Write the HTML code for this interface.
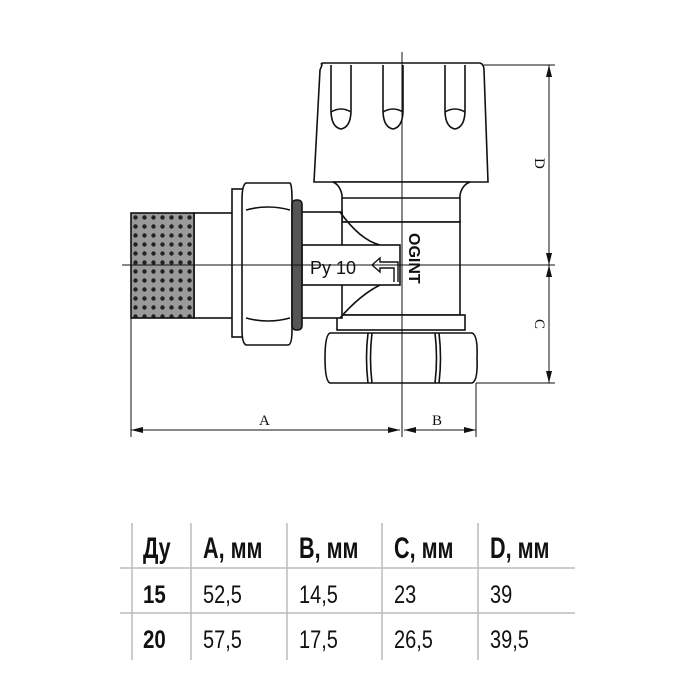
<!DOCTYPE html>
<html><head><meta charset="utf-8"><style>
html,body{margin:0;padding:0;background:#fff;}
svg{display:block}
</style></head><body>
<svg width="700" height="700" viewBox="0 0 700 700" xmlns="http://www.w3.org/2000/svg">
<defs>
<pattern id="thr" x="131" y="213" width="9" height="9" patternUnits="userSpaceOnUse">
<rect width="9" height="9" fill="#9a9a9a"/>
<circle cx="4.5" cy="4.5" r="2.2" fill="#222"/>
</pattern>
</defs>
<g fill="#fff" stroke="#111" stroke-width="1.6">
<path d="M322,65 Q320,63 324,63 L480,63 Q484,64 484,70 L488,182 L314,182 L320,70 Z"/>
<path d="M331,65 L331,110 Q331,127 341,129 Q351,127 351,110 L351,65" fill="none"/>
<path d="M383,65 L383,110 Q383,127 393,129 Q403,127 403,110 L403,65" fill="none"/>
<path d="M445,65 L445,110 Q445,127 455,129 Q465,127 465,110 L465,65" fill="none"/>
<path d="M331,112 Q341,106 351,112 M383,112 Q393,106 403,112 M445,112 Q455,106 465,112" fill="none"/>
<path d="M333,182 Q340,185 342,195 L342,222 L460,222 L460,195 Q462,185 470,182 Z"/>
<line x1="342" y1="198" x2="460" y2="198"/>
<rect x="340" y="222" width="120" height="93"/>
<rect x="337" y="315" width="128" height="15"/>
<path d="M330,333 L472,333 Q478,335 477,358 Q478,381 472,383 L330,383 Q325,381 325,358 Q325,335 330,333 Z"/>
<path d="M368,333 Q365,358 368,383 M372,333 Q369,358 372,383 M435,333 Q438,358 435,383 M439,333 Q442,358 439,383" fill="none"/>
<rect x="300" y="212" width="42" height="106"/>
<path d="M340,212 Q360,240 380,245 M340,318 Q360,295 380,285" fill="none"/>
<rect x="302" y="245" width="98" height="40"/>
<rect x="194" y="213" width="40" height="105"/>
<rect x="131" y="213" width="63" height="105" fill="url(#thr)"/>
<rect x="232" y="189" width="11" height="148"/>
<path d="M246,183 L290,183 Q292,185 292,200 L292,330 Q292,345 288,345 L246,345 Q242,343 242,330 L242,200 Q242,185 246,183 Z"/>
<path d="M246,210 Q268,204 290,210 M246,318 Q268,324 290,318" fill="none"/>
<rect x="292" y="200" width="10" height="130" rx="4" fill="#555"/>
</g>
<text x="310" y="274" font-family="Liberation Sans, sans-serif" font-size="18" fill="#111">Py 10</text>
<path d="M372,265 L380,258 L380,262 L398,262 L398,282 M372,265 L380,272 L380,268 L394,268 L394,282" fill="none" stroke="#111" stroke-width="1.4"/>
<text transform="translate(409,233) rotate(90)" font-family="Liberation Sans, sans-serif" font-weight="bold" font-size="16" fill="#111">OGINT</text>
<g stroke="#111" stroke-width="1">
<line x1="402" y1="52" x2="402" y2="437"/>
<line x1="122" y1="265" x2="555" y2="265"/>
<line x1="484" y1="65" x2="555" y2="65"/>
<line x1="476" y1="383" x2="555" y2="383"/>
<line x1="131" y1="318" x2="131" y2="437"/>
<line x1="476" y1="383" x2="476" y2="437"/>
<line x1="549" y1="65" x2="549" y2="265"/>
<line x1="549" y1="265" x2="549" y2="383"/>
<line x1="131" y1="430" x2="400" y2="430"/>
<line x1="404" y1="430" x2="476" y2="430"/>
</g>
<g fill="#111">
<path d="M549,65 l-3,12 l6,0 z M549,265 l-3,-12 l6,0 z M549,265 l-3,12 l6,0 z M549,383 l-3,-12 l6,0 z"/>
<path d="M131,430 l12,-3 l0,6 z M400,430 l-12,-3 l0,6 z M404,430 l12,-3 l0,6 z M476,430 l-12,-3 l0,6 z"/>
</g>
<g font-family="Liberation Serif, serif" font-size="15" fill="#111">
<text x="259" y="425">A</text>
<text x="432" y="425">B</text>
<text transform="translate(535,158) rotate(90)">D</text>
<text transform="translate(535,319) rotate(90)">C</text>
</g>
<g stroke="#bbb" stroke-width="1.5">
<line x1="120" y1="568" x2="575" y2="568"/>
<line x1="120" y1="613" x2="575" y2="613"/>
<line x1="132" y1="523" x2="132" y2="660"/>
<line x1="191" y1="523" x2="191" y2="660"/>
<line x1="287" y1="523" x2="287" y2="660"/>
<line x1="382" y1="523" x2="382" y2="660"/>
<line x1="478" y1="523" x2="478" y2="660"/>
</g>
<g font-family="Liberation Sans, sans-serif" fill="#111">
<g font-weight="bold" font-size="30">
<text transform="translate(143,558) scale(0.72,1)">Ду</text>
<text transform="translate(203,558) scale(0.72,1)">A, мм</text>
<text transform="translate(299,558) scale(0.72,1)">B, мм</text>
<text transform="translate(394,558) scale(0.72,1)">C, мм</text>
<text transform="translate(490,558) scale(0.72,1)">D, мм</text>
</g>
<g font-weight="bold" font-size="25">
<text transform="translate(143,603) scale(0.82,1)">15</text>
<text transform="translate(143,648) scale(0.82,1)">20</text>
</g>
<g font-size="25">
<text transform="translate(203,603) scale(0.8,1)">52,5</text>
<text transform="translate(299,603) scale(0.8,1)">14,5</text>
<text transform="translate(394,603) scale(0.8,1)">23</text>
<text transform="translate(490,603) scale(0.8,1)">39</text>
<text transform="translate(203,648) scale(0.8,1)">57,5</text>
<text transform="translate(299,648) scale(0.8,1)">17,5</text>
<text transform="translate(394,648) scale(0.8,1)">26,5</text>
<text transform="translate(490,648) scale(0.8,1)">39,5</text>
</g>
</g>
</svg>
</body></html>
